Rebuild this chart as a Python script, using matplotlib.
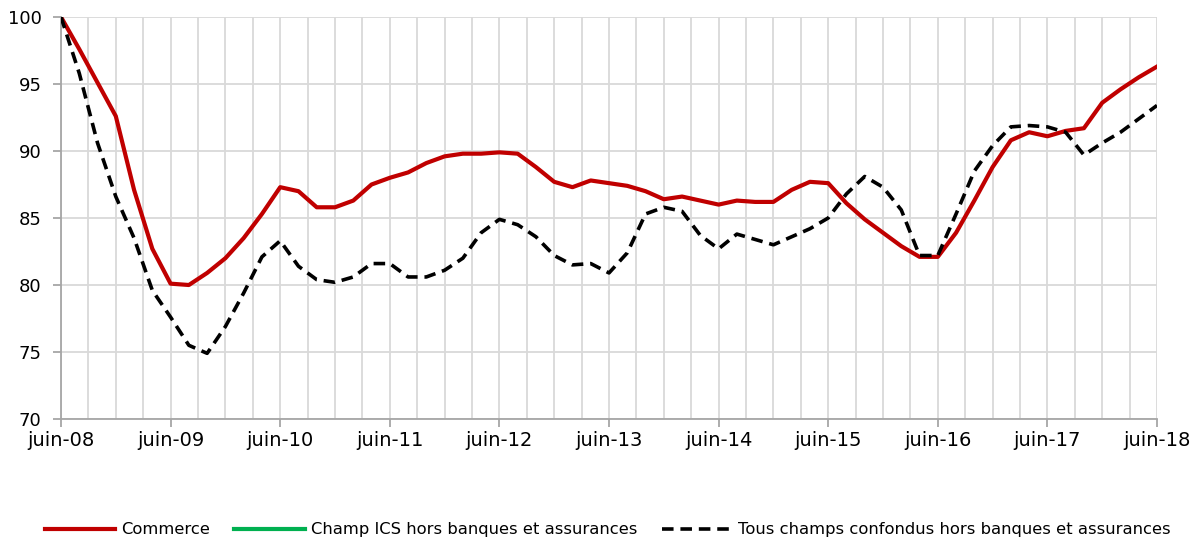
import matplotlib
matplotlib.use("Agg")
import matplotlib.pyplot as plt
from matplotlib.ticker import MultipleLocator

# Bimonthly observations from juin-08 to juin-18 (months since juin-08)
months = list(range(0, 121, 2))

commerce = [100.0, 97.6, 95.1, 92.6, 87.1, 82.7, 80.1, 80.0, 80.9, 82.0,
            83.5, 85.3, 87.3, 87.0, 85.8, 85.8, 86.3, 87.5, 88.0, 88.4,
            89.1, 89.6, 89.8, 89.8, 89.9, 89.8, 88.8, 87.7, 87.3, 87.8,
            87.6, 87.4, 87.0, 86.4, 86.6, 86.3, 86.0, 86.3, 86.2, 86.2,
            87.1, 87.7, 87.6, 86.1, 84.9, 83.9, 82.9, 82.1, 82.1, 83.9,
            86.3, 88.8, 90.8, 91.4, 91.1, 91.5, 91.7, 93.6, 94.6, 95.5,
            96.3]

tous_champs = [100.0, 95.8, 90.6, 86.6, 83.5, 79.6, 77.6, 75.5, 74.9, 76.9,
               79.4, 82.1, 83.3, 81.4, 80.4, 80.2, 80.6, 81.6, 81.6, 80.6,
               80.6, 81.1, 82.0, 83.9, 84.9, 84.5, 83.6, 82.2, 81.5, 81.6,
               80.9, 82.4, 85.3, 85.8, 85.5, 83.7, 82.7, 83.8, 83.4, 83.0,
               83.6, 84.2, 85.0, 86.8, 88.1, 87.3, 85.6, 82.2, 82.2, 85.3,
               88.5, 90.4, 91.8, 91.9, 91.8, 91.4, 89.7, 90.6, 91.4, 92.4,
               93.4]

champ_ics = []          # series not visible in the chart (legend only)
champ_ics_months = []

tick_months = list(range(0, 121, 12))
tick_labels = ["juin-08", "juin-09", "juin-10", "juin-11", "juin-12", "juin-13",
               "juin-14", "juin-15", "juin-16", "juin-17", "juin-18"]

fig = plt.figure(figsize=(12.03, 5.44), dpi=100)
ax = fig.add_axes([61/1203, 1-419/544, (1157-61)/1203, (419-17)/544])

grid_c = "#D9D9D9"
ax.plot(months, commerce, color="#C00000", lw=3.0, label="Commerce", zorder=3)
ax.plot(champ_ics_months, champ_ics, color="#00B050", lw=3.0,
        label="Champ ICS hors banques et assurances", zorder=3)
ax.plot(months, tous_champs, color="black", lw=2.6, dashes=(3.2, 1.9),
        label="Tous champs confondus hors banques et assurances", zorder=4)

ax.set_xlim(0, 120)
ax.set_ylim(70, 100)
ax.set_xticks(tick_months)
ax.set_xticklabels(tick_labels)
ax.xaxis.set_minor_locator(MultipleLocator(3))
ax.yaxis.set_major_locator(MultipleLocator(5))

ax.grid(True, which="both", axis="x", color=grid_c, lw=1.3, zorder=0)
ax.grid(True, which="major", axis="y", color=grid_c, lw=1.3, zorder=0)
ax.set_axisbelow(True)

for s in ["top", "right"]:
    ax.spines[s].set_visible(False)
for s in ["left", "bottom"]:
    ax.spines[s].set_color("#A6A6A6")
    ax.spines[s].set_linewidth(1.3)

ax.tick_params(axis="x", which="major", length=6, width=1.3, color="#A6A6A6",
               labelsize=14, pad=3)
ax.tick_params(axis="x", which="minor", length=0)
ax.tick_params(axis="y", length=6, width=1.3, color="#A6A6A6", labelsize=13, pad=8)

fig.legend(loc="center", bbox_to_anchor=(0.505, 0.026), ncol=3, frameon=False,
           fontsize=11.8, handlelength=4.3, handletextpad=0.35, columnspacing=1.5)

fig.savefig("out.png", dpi=100)
